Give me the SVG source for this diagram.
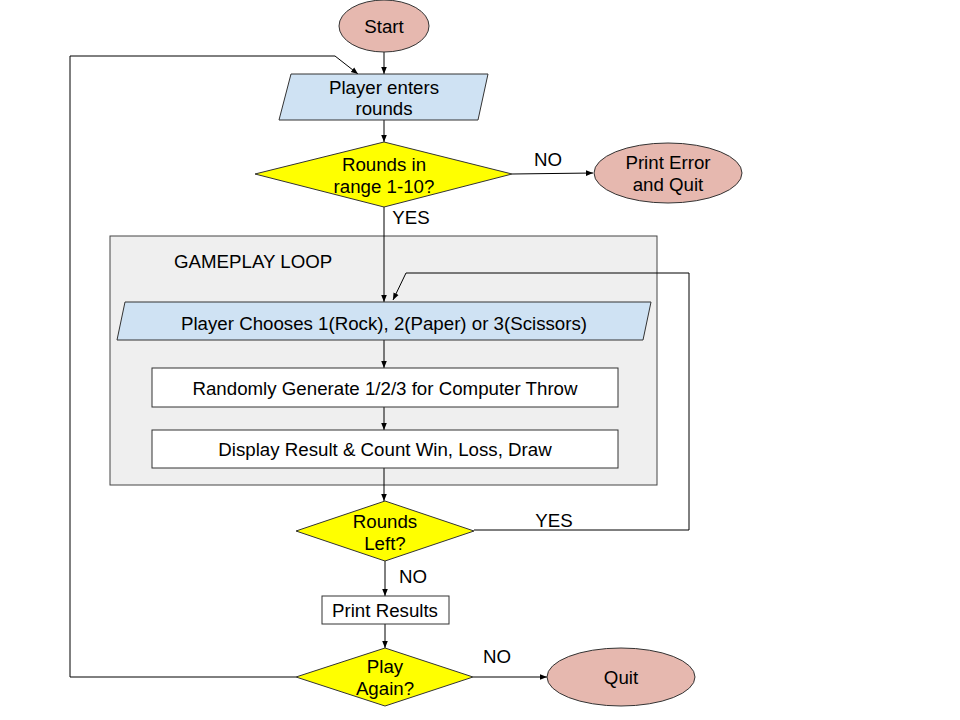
<svg xmlns="http://www.w3.org/2000/svg" width="960" height="720" viewBox="0 0 960 720">
<style>
text{font-family:"Liberation Sans",Arial,sans-serif;font-size:18.7px;fill:#000}
.c{text-anchor:middle;dominant-baseline:central}
.term{fill:#e6b8af;stroke:#333;stroke-width:1}
.io{fill:#cfe2f3;stroke:#333;stroke-width:1}
.dec{fill:#ffff00;stroke:#333;stroke-width:1}
.proc{fill:#fff;stroke:#333;stroke-width:1}
.conn{fill:none;stroke:#000;stroke-width:1}
</style>
<defs>
<marker id="ah" viewBox="0 0 10 10" refX="10" refY="5" markerWidth="7" markerHeight="7" orient="auto" markerUnits="userSpaceOnUse">
<path d="M0,1 L10,5 L0,9 z" fill="#000"/>
</marker>
</defs>
<rect width="960" height="720" fill="#fff"/>
<g id="gameplay-loop">
<rect x="110" y="236" width="547" height="249" fill="#efefef" stroke="#444" stroke-width="1"/>
<text x="174" y="261" dominant-baseline="central">GAMEPLAY LOOP</text>
</g>
<g id="connectors">
<line class="conn" x1="384" y1="52" x2="384" y2="74" marker-end="url(#ah)"/>
<line class="conn" x1="384" y1="120" x2="384" y2="142" marker-end="url(#ah)"/>
<line class="conn" x1="512" y1="174" x2="593" y2="173" marker-end="url(#ah)"/>
<line class="conn" x1="384" y1="207" x2="384" y2="302" marker-end="url(#ah)"/>
<line class="conn" x1="384" y1="340" x2="384" y2="368" marker-end="url(#ah)"/>
<line class="conn" x1="384" y1="407" x2="384" y2="430" marker-end="url(#ah)"/>
<line class="conn" x1="384" y1="468" x2="384" y2="501" marker-end="url(#ah)"/>
<polyline class="conn" points="474,530 689,530 689,273 406,273 393,300" marker-end="url(#ah)"/>
<line class="conn" x1="385" y1="561" x2="385" y2="596" marker-end="url(#ah)"/>
<line class="conn" x1="385" y1="624" x2="385" y2="648" marker-end="url(#ah)"/>
<line class="conn" x1="473" y1="677" x2="547" y2="677" marker-end="url(#ah)"/>
<polyline class="conn" points="296,677 70,677 70,56 335,56 358,74" marker-end="url(#ah)"/>
<text x="548" y="159" class="c">NO</text>
<text x="411" y="217" class="c">YES</text>
<text x="554" y="520" class="c">YES</text>
<text x="413" y="576" class="c">NO</text>
<text x="497" y="656" class="c">NO</text>
</g>
<g id="start">
<ellipse class="term" cx="384" cy="26" rx="45" ry="26"/>
<text x="384" y="26" class="c">Start</text>
</g>
<g id="enter-rounds">
<polygon class="io" points="291,74 488,74 478,120 279,120"/>
<text x="384" y="87" class="c">Player enters</text>
<text x="384" y="108" class="c">rounds</text>
</g>
<g id="range-check">
<polygon class="dec" points="384,142 512,174 384,207 255,174"/>
<text x="384" y="164" class="c">Rounds in</text>
<text x="384" y="186" class="c">range 1-10?</text>
</g>
<g id="print-error">
<ellipse class="term" cx="668" cy="173" rx="74" ry="30"/>
<text x="668" y="162" class="c">Print Error</text>
<text x="668" y="184" class="c">and Quit</text>
</g>
<g id="player-chooses">
<polygon class="io" points="125,302 651,302 643,340 117,340"/>
<text x="384" y="323" class="c">Player Chooses 1(Rock), 2(Paper) or 3(Scissors)</text>
</g>
<g id="random-generate">
<rect class="proc" x="152" y="368" width="466" height="39"/>
<text x="385" y="388" class="c">Randomly Generate 1/2/3 for Computer Throw</text>
</g>
<g id="display-result">
<rect class="proc" x="152" y="430" width="466" height="38"/>
<text x="385" y="449" class="c">Display Result &amp; Count Win, Loss, Draw</text>
</g>
<g id="rounds-left">
<polygon class="dec" points="385,501 474,531 385,561 296,531"/>
<text x="385" y="521" class="c">Rounds</text>
<text x="385" y="543" class="c">Left?</text>
</g>
<g id="print-results">
<rect class="proc" x="322" y="596" width="127" height="28"/>
<text x="385" y="610" class="c">Print Results</text>
</g>
<g id="play-again">
<polygon class="dec" points="385,648 473,677 385,706 296,677"/>
<text x="385" y="666" class="c">Play</text>
<text x="385" y="688" class="c">Again?</text>
</g>
<g id="quit">
<ellipse class="term" cx="621" cy="677" rx="74" ry="29"/>
<text x="621" y="677" class="c">Quit</text>
</g>
</svg>
